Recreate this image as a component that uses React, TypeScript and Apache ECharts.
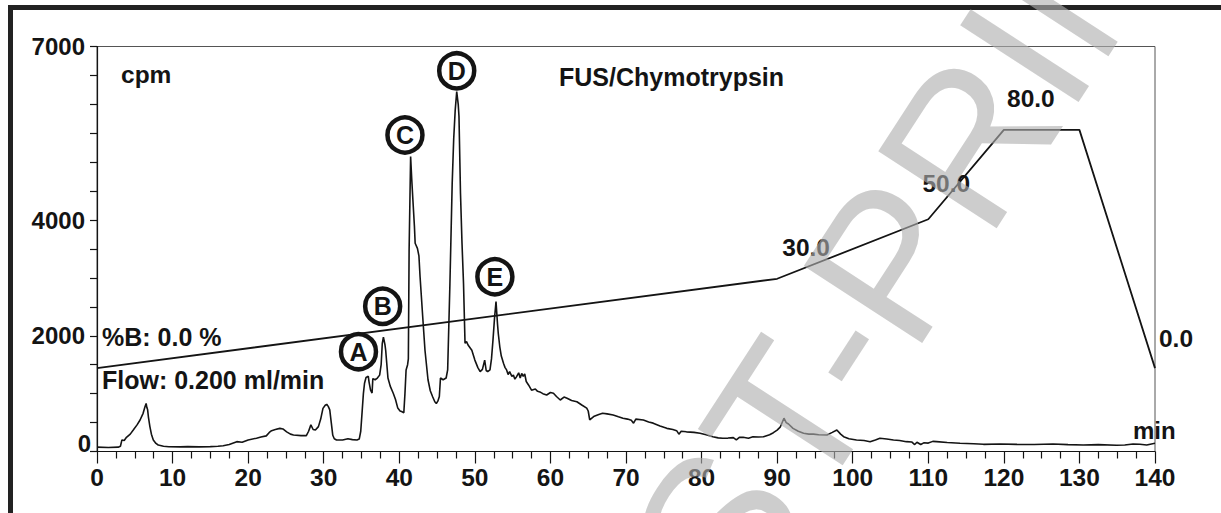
import React, { useEffect, useRef } from "react";
import * as echarts from "echarts";

// Chromatogram trace (time in min, radioactivity in cpm)
const traceTime = [
  0, 1.5, 2.8, 3.1, 3.3, 3.6, 3.9, 4.4, 4.8, 5.3, 5.7, 6.1, 6.35, 6.5, 6.6, 6.7, 6.8, 7.0, 7.2, 7.45, 7.8, 8.1, 8.8, 9.5,
  11, 12, 13.5, 15, 16, 16.7, 17.5, 18.5, 19.2, 20, 21.1, 21.7, 22.4, 22.8, 23.1, 23.6, 24.2, 24.6, 25.1, 25.6, 26.0,
  27, 27.7, 28.0, 28.3, 28.6, 28.9, 29.3, 29.6, 29.9, 30.2, 30.4, 30.6, 30.8, 31.0, 31.2, 31.4, 31.7, 32.5, 33.2, 33.8,
  34.4, 34.7, 34.9, 35.1, 35.25, 35.4, 35.6, 35.9, 36.0, 36.2, 36.4, 36.5, 36.8, 37.1, 37.4, 37.6, 37.75, 37.9, 38.1,
  38.2, 38.5, 38.8, 39.2, 39.5, 39.8, 40.1, 40.3, 40.6, 40.75, 40.9, 41.1, 41.2, 41.3, 41.5, 41.65, 41.8, 42.0, 42.1,
  42.4, 42.6, 42.75, 43.1, 43.4, 43.8, 44.1, 44.4, 44.7, 44.9, 45.1, 45.3, 45.45, 45.8, 46.2, 46.4, 46.7, 47.0, 47.2,
  47.4, 47.6, 47.8, 47.9, 48.1, 48.3, 48.5, 48.7, 48.9, 49.1, 49.6, 50.0, 50.4, 50.7, 51.0, 51.3, 51.5, 51.7, 52.0,
  52.2, 52.4, 52.6, 52.8, 53.0, 53.1, 53.3, 53.5, 53.8, 54.0, 54.2, 54.4, 54.6, 54.9, 55.1, 55.3, 55.5, 55.8, 56.0,
  56.2, 56.4, 56.6, 56.8, 57.1, 57.5, 58.0, 58.3, 58.6, 59.0, 59.5, 60.0, 60.4, 60.8, 61.3, 61.8, 62.2, 62.8, 63.5,
  64.2, 64.8, 65.0, 65.2, 65.8, 66.4, 66.9, 67.5, 68.3, 69.0, 69.6, 70.2, 70.7, 71.0, 71.3, 72.3, 73.0, 73.6, 74.5,
  75.4, 76.2, 76.7, 77.0, 77.3, 78.0, 79.0, 79.8, 80.6, 81.5, 82.2, 82.8, 83.5, 84.2, 84.6, 85.0, 85.5, 86.2, 86.8,
  87.5, 88.2, 89.0, 89.5, 90.0, 90.4, 90.9, 91.2, 91.5, 92.1, 92.8, 93.5, 94.2, 94.8, 95.5, 96.6, 97.3, 97.9, 98.4,
  98.8, 99.5, 100.5, 101.5, 102.3, 103.0, 103.6, 104.5, 105.4, 106.2, 107.1, 107.8, 108.2, 108.5, 109.0, 109.4,
  110.0, 110.6, 111.1, 112.5, 114.2, 116.0, 117.3, 119.5, 121.7, 124.0, 126.5, 128.5, 130.5, 132.5, 134.9, 136.0,
  137.1, 138.0, 138.9, 140.0,
];
const traceCpm = [
  75, 70, 75, 90, 200, 190, 245, 300, 370, 460, 545, 660, 775, 830, 760, 720, 600, 430, 300, 200, 140, 112, 90, 83,
  80, 85, 80, 85, 90, 100, 120, 170, 160, 200, 230, 250, 270, 330, 360, 380, 400, 390, 340, 300, 285,
  275, 275, 350, 460, 380, 370, 430, 560, 745, 800, 815, 780, 720, 500, 280, 220, 200, 200, 220, 205,
  200, 215, 350, 720, 1000, 1180, 1280, 1300, 1200, 1060, 1010, 1260, 1240, 1270, 1320, 1500, 1870, 1975, 1850,
  1750, 1270, 1130, 1006, 900, 750, 700, 690, 670, 1000, 1410, 1500, 1600, 3480, 5100, 4700, 4350, 3900, 3600,
  3510, 3380, 3020, 2330, 1750, 1240, 1050, 950, 860, 830, 870, 950, 1270, 1240, 1270, 1410, 2900, 4630, 5400,
  5900, 6220, 6000, 5790, 4460, 3600, 2900, 1870, 1900, 1840, 1750, 1580, 1450, 1380, 1420, 1580, 1400, 1380, 1410,
  1600, 1930, 2300, 2590, 2200, 2040, 1810, 1650, 1520, 1450, 1410, 1330, 1380, 1300, 1320, 1250, 1290, 1360, 1270,
  1350, 1300, 1340, 1210, 1150, 1060, 1080, 1040, 1030, 1000, 976, 1020, 1006, 950, 890, 940, 920, 880, 860,
  800, 750, 700, 545, 610, 640, 660, 650, 630, 600, 575, 560, 540, 490, 560, 545, 510, 490, 440,
  400, 380, 360, 300, 350, 340, 330, 315, 290, 256, 235, 228, 232, 240, 200, 245, 245, 230, 256,
  250, 256, 290, 325, 370, 420, 575, 500, 475, 400, 350, 315, 300, 300, 290, 285, 330, 372, 300,
  256, 220, 200, 190, 170, 200, 228, 215, 200, 190, 170, 165, 120, 160, 120, 150,
  145, 175, 170, 155, 142, 135, 124, 130, 124, 120, 130, 118, 112, 118, 107, 112,
  130, 125, 112, 142,
];

// Gradient programme (%B)
const gradTime = [0, 90, 110, 120, 130, 140];
const gradB = [0, 30, 50, 80, 80, 0];
const gradLabelTimes = [90, 110, 120, 140];

// Peak annotations
const peakNames = ["A", "B", "C", "D", "E"];
const peakTime = [34.6, 37.8, 40.75, 47.6, 52.65];
const peakCpm = [1725, 2510, 5470, 6580, 3020];

const yLabelValues = [0, 2000, 4000, 7000];

const FONT = "'Liberation Sans', Arial, Helvetica, sans-serif";
const INK = "#141414";

export default function App() {
  const ref = useRef<HTMLDivElement>(null);
  useEffect(() => {
    if (!ref.current) return;
    const chart = echarts.init(ref.current, null, { renderer: "svg" });
    const labelOffsets: Record<number, number[]> = {
      90: [29, -31],
      110: [18, -36],
      120: [27, -31],
      140: [21, -30],
    };
    const text = (s: string, x: number, y: number, size = 25) => ({
      type: "text",
      x,
      y,
      style: {
        text: s,
        fill: INK,
        font: `bold ${size}px ${FONT}`,
        textAlign: "left",
        textVerticalAlign: "middle",
      },
      z: 5,
    });
    const option: any = {
      animation: false,
      backgroundColor: "#ffffff",
      grid: {
        left: 97,
        right: 66,
        top: 46.5,
        bottom: 61.5,
        show: true,
        borderColor: "#555",
        borderWidth: 1,
        backgroundColor: "transparent",
      },
      xAxis: {
        type: "value",
        min: 0,
        max: 140,
        interval: 10,
        axisLine: { show: true, onZero: false, lineStyle: { color: INK, width: 1.2 } },
        axisTick: { show: true, length: 12, lineStyle: { color: INK, width: 1.2 } },
        minorTick: { show: true, splitNumber: 4, length: 7, lineStyle: { color: INK, width: 1.2 } },
        splitLine: { show: false },
        axisLabel: {
          color: INK,
          fontFamily: FONT,
          fontWeight: "bold",
          fontSize: 24.5,
          margin: 13,
        },
      },
      yAxis: [
        {
          type: "value",
          min: 0,
          max: 7000,
          interval: 500,
          axisLine: { show: true, onZero: false, lineStyle: { color: INK, width: 1.2 } },
          axisTick: { show: true, length: 7, lineStyle: { color: INK, width: 1.2 } },
          splitLine: { show: false },
          axisLabel: {
            color: INK,
            fontFamily: FONT,
            fontWeight: "bold",
            fontSize: 24,
            margin: 6,
            formatter: (v: number) =>
              v === 0 ? "{z|0}" : yLabelValues.includes(v) ? `{n|${v}}` : "",
            rich: {
              z: {
                color: INK,
                fontFamily: FONT,
                fontWeight: "bold",
                fontSize: 24,
                padding: [0, 0, 16, 0],
              },
              n: {
                color: INK,
                fontFamily: FONT,
                fontWeight: "bold",
                fontSize: 24,
                padding: [0, 6, 0, 0],
              },
            },
          },
        },
        {
          type: "value",
          min: -28,
          max: 108,
          show: false,
          splitLine: { show: false },
        },
      ],
      series: [
        {
          type: "line",
          name: "cpm",
          data: traceTime.map((t, i) => [t, traceCpm[i]]),
          showSymbol: false,
          symbol: "none",
          lineStyle: { color: INK, width: 1.6 },
          z: 3,
          markPoint: {
            symbol: "circle",
            symbolSize: 35,
            itemStyle: { color: "#ffffff", borderColor: INK, borderWidth: 4.5 },
            label: {
              show: true,
              position: "inside",
              formatter: "{b}",
              color: INK,
              fontFamily: FONT,
              fontWeight: "bold",
              fontSize: 25,
            },
            data: peakNames.map((n, i) => ({ name: n, coord: [peakTime[i], peakCpm[i]] })),
          },
        },
        {
          type: "line",
          name: "%B",
          yAxisIndex: 1,
          data: gradTime.map((t, i) => [t, gradB[i]]),
          showSymbol: false,
          symbol: "none",
          lineStyle: { color: INK, width: 1.8 },
          z: 2,
          markPoint: {
            symbol: "rect",
            symbolSize: 1,
            itemStyle: { color: "transparent" },
            label: {
              show: true,
              position: "inside",
              color: INK,
              fontFamily: FONT,
              fontWeight: "bold",
              fontSize: 24.5,
            },
            data: gradLabelTimes.map((t) => {
              const v = gradB[gradTime.indexOf(t)];
              return {
                name: String(t),
                coord: [t, v],
                label: { formatter: v.toFixed(1), offset: labelOffsets[t] },
              };
            }),
          },
        },
      ],
      graphic: [
        {
          type: "rect",
          shape: { x: 10.5, y: 7.5, width: 1400, height: 700 },
          style: { fill: "none", stroke: "#222", lineWidth: 5 },
          z: 1,
          silent: true,
        },
        text("cpm", 121, 74, 24.5),
        text("FUS/Chymotrypsin", 559, 77),
        text("%B: 0.0 %", 102, 337),
        text("Flow: 0.200 ml/min", 102, 380),
        text("min", 1133, 430, 24),
        {
          type: "text",
          x: 853,
          y: 318,
          rotation: 0.995,
          style: {
            text: "POST-PRINT",
            fill: "rgba(175,175,175,0.62)",
            font: `205px ${FONT}`,
            textAlign: "center",
            textVerticalAlign: "middle",
          },
          z: 100,
          silent: true,
        },
      ],
    };
    chart.setOption(option);
    return () => chart.dispose();
  }, []);
  return (
    <div
      ref={ref}
      style={{ position: "absolute", left: 0, top: 0, width: 1221, height: 513, background: "#fff" }}
    />
  );
}
